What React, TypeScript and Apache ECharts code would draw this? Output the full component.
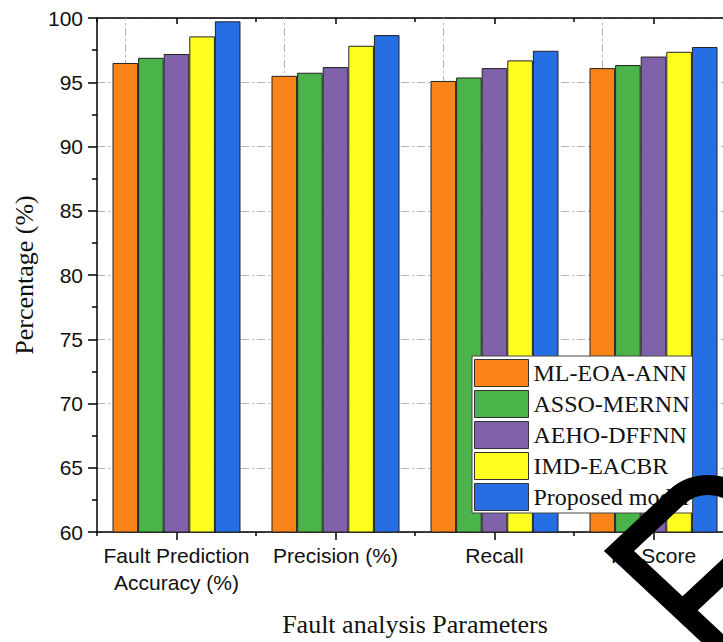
import React, { useEffect, useRef } from "react";
import * as echarts from "echarts";

const categories = ["Fault Prediction\nAccuracy (%)", "Precision (%)", "Recall", "F1 Score"];
const seriesNames = ["ML-EOA-ANN", "ASSO-MERNN", "AEHO-DFFNN", "IMD-EACBR", "Proposed model"];
const mlEoaAnn = [96.5, 95.5, 95.1, 96.1];
const assoMernn = [96.9, 95.74, 95.37, 96.34];
const aehoDffnn = [97.2, 96.18, 96.1, 97.0];
const imdEacbr = [98.57, 97.84, 96.7, 97.37];
const proposedModel = [99.74, 98.67, 97.45, 97.74];
const seriesValues = [mlEoaAnn, assoMernn, aehoDffnn, imdEacbr, proposedModel];
const colors = ["#FA8419", "#4AB34A", "#8062AA", "#FFFF1F", "#256EE3"];
const yMin = 60;
const yMax = 100;
const yInterval = 5;

const markPath =
  "M 141.42 141.42 L 0 0 L 53.74 -53.74 A 42 42 0 0 1 113.14 5.66 L 59.4 59.4";
echarts.graphic.registerShape("pmark", echarts.graphic.extendPath(markPath, {}));

const SERIF = "Liberation Serif";
const SANS = "Liberation Sans";
const gridDash = { color: "#b4b4b4", width: 1, type: [8, 3, 2, 3] as any };
const blackLine = { color: "#000", width: 1.5 };

export default function App() {
  const ref = useRef<HTMLDivElement>(null);
  useEffect(() => {
    if (!ref.current) return;
    const chart = echarts.init(ref.current, null, { renderer: "svg" });
    const xBase = { type: "category", data: categories, gridIndex: 0 };
    chart.setOption({
      animation: false,
      backgroundColor: "#fff",
      grid: { left: 97, top: 18, width: 636, height: 514, containLabel: false },
      legend: {
        orient: "vertical",
        left: 472,
        top: 356,
        itemWidth: 54,
        itemHeight: 27,
        itemGap: 3,
        padding: [3, 3, 2, 2],
        borderColor: "#444",
        borderWidth: 1,
        borderRadius: 0,
        backgroundColor: "#fff",
        icon: "rect",
        itemStyle: { borderColor: "#333", borderWidth: 1 },
        textStyle: { fontFamily: SERIF, fontSize: 24, color: "#111" },
        data: seriesNames,
      },
      xAxis: [
        {
          ...xBase,
          position: "bottom",
          name: "Fault analysis Parameters",
          nameLocation: "middle",
          nameGap: 79,
          nameTextStyle: { fontFamily: SERIF, fontSize: 26, color: "#111" },
          axisLine: { show: true, lineStyle: blackLine },
          axisTick: { show: true, alignWithLabel: true, length: 8, lineStyle: blackLine },
          axisLabel: {
            interval: 0,
            fontFamily: SANS,
            fontSize: 21,
            lineHeight: 27,
            color: "#111",
            margin: 10,
          },
          splitLine: { show: false },
        },
        {
          ...xBase,
          position: "bottom",
          axisLine: { show: false },
          axisTick: { show: true, length: 4, lineStyle: blackLine },
          axisLabel: { show: false },
          splitLine: { show: false },
        },
        {
          ...xBase,
          position: "top",
          axisLine: { show: true, lineStyle: blackLine },
          axisTick: { show: true, inside: true, alignWithLabel: true, length: 6, lineStyle: blackLine },
          axisLabel: { show: false },
          splitLine: { show: false },
        },
        {
          ...xBase,
          position: "top",
          axisLine: { show: false },
          axisTick: { show: true, inside: true, length: 4, lineStyle: blackLine },
          axisLabel: { show: false },
          splitLine: { show: false },
        },
      ],
      yAxis: {
        type: "value",
        min: yMin,
        max: yMax,
        interval: yInterval,
        name: "Percentage (%)",
        nameLocation: "middle",
        nameGap: 58,
        nameRotate: 90,
        nameTextStyle: { fontFamily: SERIF, fontSize: 26, color: "#111" },
        axisLine: { show: true, lineStyle: blackLine },
        axisTick: { show: true, inside: false, length: 9, lineStyle: blackLine },
        minorTick: { show: true, splitNumber: 2, length: 5, lineStyle: blackLine },
        axisLabel: { fontFamily: SANS, fontSize: 21, color: "#111", margin: 14 },
        splitLine: { show: true, lineStyle: gridDash },
      },
      series: seriesNames.map((name, i) => ({
        name,
        type: "bar",
        xAxisIndex: 0,
        data: seriesValues[i],
        barGap: "0%",
        barCategoryGap: "19.5%",
        z: 3,
        itemStyle: { color: colors[i], borderColor: "#222", borderWidth: 1 },
        markLine:
          i === 0
            ? {
                silent: true,
                symbol: "none",
                z: 1,
                label: { show: false },
                lineStyle: gridDash,
                emphasis: { disabled: true },
                data: categories.map((c) => ({ xAxis: c })),
              }
            : undefined,
      })),
      graphic: [
        {
          type: "pmark",
          x: 619,
          y: 551,
          scaleX: 1.07,
          scaleY: 1,
          z: 100,
          silent: true,
          style: { fill: "none", stroke: "#000", lineWidth: 20, lineJoin: "miter" },
        },
      ],
    });
    return () => chart.dispose();
  }, []);
  return (
    <div
      style={{
        position: "fixed",
        left: 0,
        top: 0,
        width: 723,
        height: 642,
        overflow: "hidden",
        background: "#fff",
      }}
    >
      <div ref={ref} style={{ width: 800, height: 642 }} />
    </div>
  );
}
